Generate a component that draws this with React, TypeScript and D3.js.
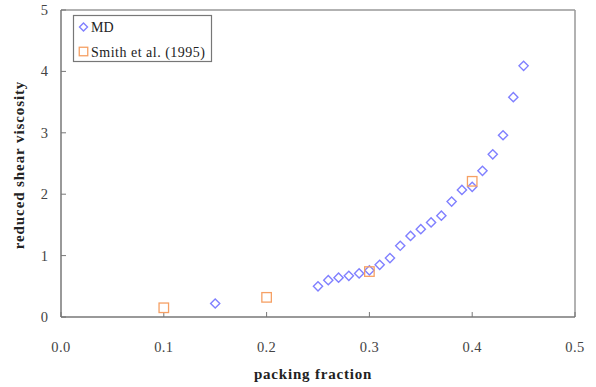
import React from "react";
import * as d3 from "d3";

const mdFraction = [0.15, 0.25, 0.26, 0.27, 0.28, 0.29, 0.3, 0.31, 0.32, 0.33, 0.34, 0.35, 0.36, 0.37, 0.38, 0.39, 0.4, 0.41, 0.42, 0.43, 0.44, 0.45];
const mdViscosity = [0.22, 0.5, 0.6, 0.64, 0.67, 0.71, 0.76, 0.85, 0.96, 1.16, 1.32, 1.43, 1.54, 1.65, 1.88, 2.07, 2.12, 2.38, 2.65, 2.96, 3.58, 4.09];
const smithFraction = [0.1, 0.2, 0.3, 0.4];
const smithViscosity = [0.15, 0.32, 0.74, 2.21];
const xTicks = [0, 0.1, 0.2, 0.3, 0.4, 0.5];
const yTicks = [0, 1, 2, 3, 4, 5];

const W = 596;
const H = 387;
const M = { left: 61, right: 575, top: 10, bottom: 317 };
const FONT = "'Liberation Serif', 'Times New Roman', serif";
const BLUE = "#8080ff";
const ORANGE = "#f6a064";

function Diamond({ cx, cy, r = 4.6 }: { cx: number; cy: number; r?: number }) {
  return (
    <path
      d={`M${cx},${cy - r}L${cx + r},${cy}L${cx},${cy + r}L${cx - r},${cy}Z`}
      fill="none"
      stroke={BLUE}
      strokeWidth={1.4}
    />
  );
}

function Square({ cx, cy, s = 9.5 }: { cx: number; cy: number; s?: number }) {
  return (
    <rect x={cx - s / 2} y={cy - s / 2} width={s} height={s} fill="none" stroke={ORANGE} strokeWidth={1.3} />
  );
}

export default function App() {
  const x = d3.scaleLinear().domain([0, 0.5]).range([M.left, M.right]);
  const y = d3.scaleLinear().domain([0, 5]).range([M.bottom, M.top]);
  const fmt = d3.format(".1f");

  return (
    <svg width={W} height={H} style={{ position: "absolute", left: 0, top: 0, background: "#fff" }}>
      {/* plot frame */}
      <line x1={M.left} x2={M.right} y1={M.top} y2={M.top} stroke="#999" strokeWidth={1.5} />
      <line x1={M.right} x2={M.right} y1={M.top} y2={M.bottom} stroke="#999" strokeWidth={1.5} />
      <line x1={M.left} x2={M.right} y1={M.bottom} y2={M.bottom} stroke="#777" strokeWidth={1.5} />
      <line x1={M.left} x2={M.left} y1={M.top} y2={M.bottom} stroke="#777" strokeWidth={1.5} />

      {/* x axis ticks and labels */}
      {xTicks.map((t) => (
        <g key={`x${t}`}>
          <line x1={x(t)} x2={x(t)} y1={M.bottom} y2={M.bottom - 5} stroke="#777" strokeWidth={1} />
          <text x={x(t)} y={352} textAnchor="middle" fontFamily={FONT} fontSize={14.5} letterSpacing={0.4} fill="#444">
            {fmt(t)}
          </text>
        </g>
      ))}

      {/* y axis ticks and labels */}
      {yTicks.map((t) => (
        <g key={`y${t}`}>
          <line x1={M.left} x2={M.left + 5} y1={y(t)} y2={y(t)} stroke="#777" strokeWidth={1} />
          <text x={48} y={y(t) + 5} textAnchor="end" fontFamily={FONT} fontSize={14.5} fill="#444">
            {t}
          </text>
        </g>
      ))}

      {/* axis titles */}
      <text x={313} y={379} textAnchor="middle" fontFamily={FONT} fontSize={15} letterSpacing={0.8} fontWeight="bold" fill="#222">
        packing fraction
      </text>
      <text
        transform={`translate(24,165) rotate(-90)`}
        textAnchor="middle"
        fontFamily={FONT}
        fontSize={15}
        letterSpacing={0.9}
        fontWeight="bold"
        fill="#222"
      >
        reduced shear viscosity
      </text>

      {/* MD series */}
      {mdFraction.map((f, i) => (
        <Diamond key={`md${i}`} cx={x(f)} cy={y(mdViscosity[i])} />
      ))}

      {/* Smith et al. series */}
      {smithFraction.map((f, i) => (
        <Square key={`sm${i}`} cx={x(f)} cy={y(smithViscosity[i])} />
      ))}

      {/* legend */}
      <rect x={73.5} y={15.5} width={138} height={46} fill="#fff" stroke="#777" strokeWidth={1.2} />
      <Diamond cx={83.5} cy={27} r={4} />
      <text x={91} y={31.5} fontFamily={FONT} fontSize={14} fill="#222">MD</text>
      <Square cx={83.5} cy={51.5} s={8.5} />
      <text x={91} y={56.5} fontFamily={FONT} fontSize={14} letterSpacing={0.5} fill="#222">Smith et al. (1995)</text>
    </svg>
  );
}
